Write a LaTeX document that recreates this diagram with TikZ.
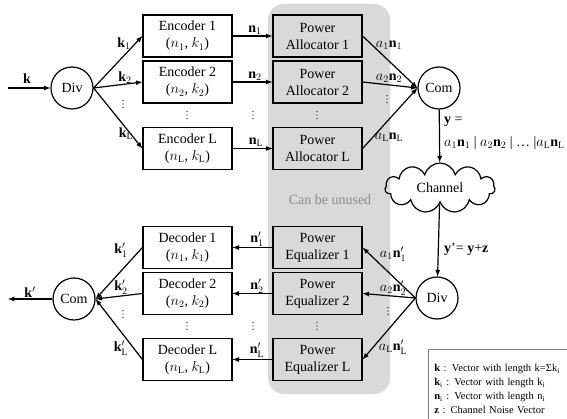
\documentclass[tikz,border=0pt]{standalone}
\usepackage{amsmath, amssymb, fontspec, tikz}
\setmainfont{Liberation Serif}
\usetikzlibrary{shapes.symbols}

\tikzset{
  blk/.style={draw,line width=1.2pt,minimum width=89pt,minimum height=42pt,align=center,inner sep=0pt,font=\fontsize{14}{17}\selectfont},
  rnd/.style={draw,circle,line width=1.2pt,minimum size=42pt,inner sep=0pt,font=\fontsize{14}{17}\selectfont},
  lbl/.style={font=\fontsize{14}{17}\selectfont,inner sep=0pt},
}
% three small dots, drawn as shapes
\newcommand{\vdt}[2]{\foreach \d in {-3.5,0,3.5}{\fill (#1,#2+\d) circle (0.7pt);}}

\begin{document}
\begin{tikzpicture}[x=1pt,y=-1pt]
\useasboundingbox (0,0) rectangle (567,419);
\fill[black!15,rounded corners=16pt] (268,4) rectangle (390,394);
% transmitter
\coordinate (kin) at(8,88);
\node[rnd] (div)at(72,88){Div};
\node[blk] (enc1)at(187.5,36){Encoder 1\\($n_1$, $k_1$)};
\node[blk] (enc2)at(187.5,82){Encoder 2\\($n_2$, $k_2$)};
\node[blk] (encL)at(187.5,148.5){Encoder L\\($n_\mathrm{L}$, $k_\mathrm{L}$)};
\node[blk] (pa1)at(317.5,36){Power\\Allocator 1};
\node[blk] (pa2)at(317.5,82){Power\\Allocator 2};
\node[blk] (paL)at(317.5,148.5){Power\\Allocator L};
\node[rnd] (com)at(439,88){Com};
\draw[->,>=latex,line width=1.2pt] (kin) to (div);
\draw[->,>=latex,line width=1.2pt] (div.east) to (enc1.west);
\draw[->,>=latex,line width=1.2pt] (div.east) to (enc2.west);
\draw[->,>=latex,line width=1.2pt] (div.east) to (encL.west);
\draw[->,>=latex,line width=1.2pt] (enc1) to (pa1);
\draw[->,>=latex,line width=1.2pt] (enc2) to (pa2);
\draw[->,>=latex,line width=1.2pt] (encL) to (paL);
\draw[->,>=latex,line width=1.2pt] (pa1.east) to (com.west);
\draw[->,>=latex,line width=1.2pt] (pa2.east) to (com.west);
\draw[->,>=latex,line width=1.2pt] (paL.east) to (com.west);
\node[lbl] (lk)at(27,79){$\mathbf{k}$};
\node[lbl] (lk1)at(124,44){$\mathbf{k}_1$};
\node[lbl] (lk2)at(125,78){$\mathbf{k}_2$};
\vdt{123}{104}
\node[lbl] (lkL)at(126,134){$\mathbf{k}_\mathrm{L}$};
\vdt{187}{115}
\node[lbl] (ln1)at(255,30){$\mathbf{n}_1$};
\node[lbl] (ln2)at(255,76){$\mathbf{n}_2$};
\vdt{253}{115}
\node[lbl] (lnL)at(256,142){$\mathbf{n}_\mathrm{L}$};
\vdt{317}{115}
\node[lbl] (la1)at(389,45){$a_1\mathbf{n}_1$};
\node[lbl] (la2)at(389,78){$a_2\mathbf{n}_2$};
\vdt{387}{99}
\node[lbl] (laL)at(389,137){$a_\mathrm{L}\mathbf{n}_\mathrm{L}$};
% channel
\node[cloud,draw,line width=1.2pt,cloud puffs=11,aspect=2.3,minimum width=110pt,minimum height=50pt,font=\fontsize{14}{17}\selectfont] (ch)at(440,188){Channel};
\draw[->,>=latex,line width=1.2pt] (com) to (ch);
\node[lbl,anchor=west] (ly1)at(444,122){$\mathbf{y}$ =};
\node[lbl,anchor=west] (ly2)at(444,143){$a_1\mathbf{n}_1$ | $a_2\mathbf{n}_2$ | … |$a_\mathrm{L}\mathbf{n}_\mathrm{L}$};
\node[lbl,text=black!45] (unused)at(330,200){Can be unused};
% receiver
\node[rnd] (divb)at(437,298){Div};
\draw[->,>=latex,line width=1.2pt] (ch) to (divb);
\node[lbl,anchor=west] (lyz)at(444,249){$\mathbf{y}$’= $\mathbf{y}$+$\mathbf{z}$};
\node[blk] (eq1)at(317.5,247.5){Power\\Equalizer 1};
\node[blk] (eq2)at(317.5,293.5){Power\\Equalizer 2};
\node[blk] (eqL)at(317.5,359.5){Power\\Equalizer L};
\node[blk] (dec1)at(187.5,247.5){Decoder 1\\($n_1$, $k_1$)};
\node[blk] (dec2)at(187.5,293.5){Decoder 2\\($n_2$, $k_2$)};
\node[blk] (decL)at(187.5,359.5){Decoder L\\($n_\mathrm{L}$, $k_\mathrm{L}$)};
\node[rnd] (comb)at(74,299){Com};
\coordinate (kout) at(8,299);
\draw[->,>=latex,line width=1.2pt] (divb.west) to (eq1.east);
\draw[->,>=latex,line width=1.2pt] (divb.west) to (eq2.east);
\draw[->,>=latex,line width=1.2pt] (divb.west) to (eqL.east);
\draw[->,>=latex,line width=1.2pt] (eq1) to (dec1);
\draw[->,>=latex,line width=1.2pt] (eq2) to (dec2);
\draw[->,>=latex,line width=1.2pt] (eqL) to (decL);
\draw[->,>=latex,line width=1.2pt] (dec1.west) to (comb.east);
\draw[->,>=latex,line width=1.2pt] (dec2.west) to (comb.east);
\draw[->,>=latex,line width=1.2pt] (decL.west) to (comb.east);
\draw[->,>=latex,line width=1.2pt] (comb) to (kout);
\node[lbl] (lb1)at(393,254){$a_1\mathbf{n}'_1$};
\node[lbl] (lb2)at(393,288){$a_2\mathbf{n}'_2$};
\vdt{388}{311}
\node[lbl] (lbL)at(393,347){$a_\mathrm{L}\mathbf{n}'_\mathrm{L}$};
\vdt{317}{326}
\node[lbl] (lm1)at(257,239){$\mathbf{n}'_1$};
\node[lbl] (lm2)at(257,286){$\mathbf{n}'_2$};
\vdt{253}{326}
\node[lbl] (lmL)at(257,350){$\mathbf{n}'_\mathrm{L}$};
\vdt{187}{326}
\node[lbl] (lj1)at(121,250){$\mathbf{k}'_1$};
\node[lbl] (lj2)at(121,287){$\mathbf{k}'_2$};
\vdt{123}{314}
\node[lbl] (ljL)at(121,348){$\mathbf{k}'_\mathrm{L}$};
\node[lbl] (lko)at(30,292){$\mathbf{k}'$};
% legend
\node[draw=black!50,line width=0.8pt,anchor=north west,minimum width=150pt,minimum height=80pt,text width=138pt,align=left,inner xsep=5pt,inner ysep=3pt,font=\fontsize{10.5}{14}\selectfont] (legend)at(428,349){$\mathbf{k}$ : Vector with length k=Σk\textsubscript{i}\\$\mathbf{k}_\mathrm{i}$ : Vector with length k\textsubscript{i}\\$\mathbf{n}_\mathrm{i}$ : Vector with length n\textsubscript{i}\\$\mathbf{z}$ : Channel Noise Vector};
\end{tikzpicture}
\end{document}
